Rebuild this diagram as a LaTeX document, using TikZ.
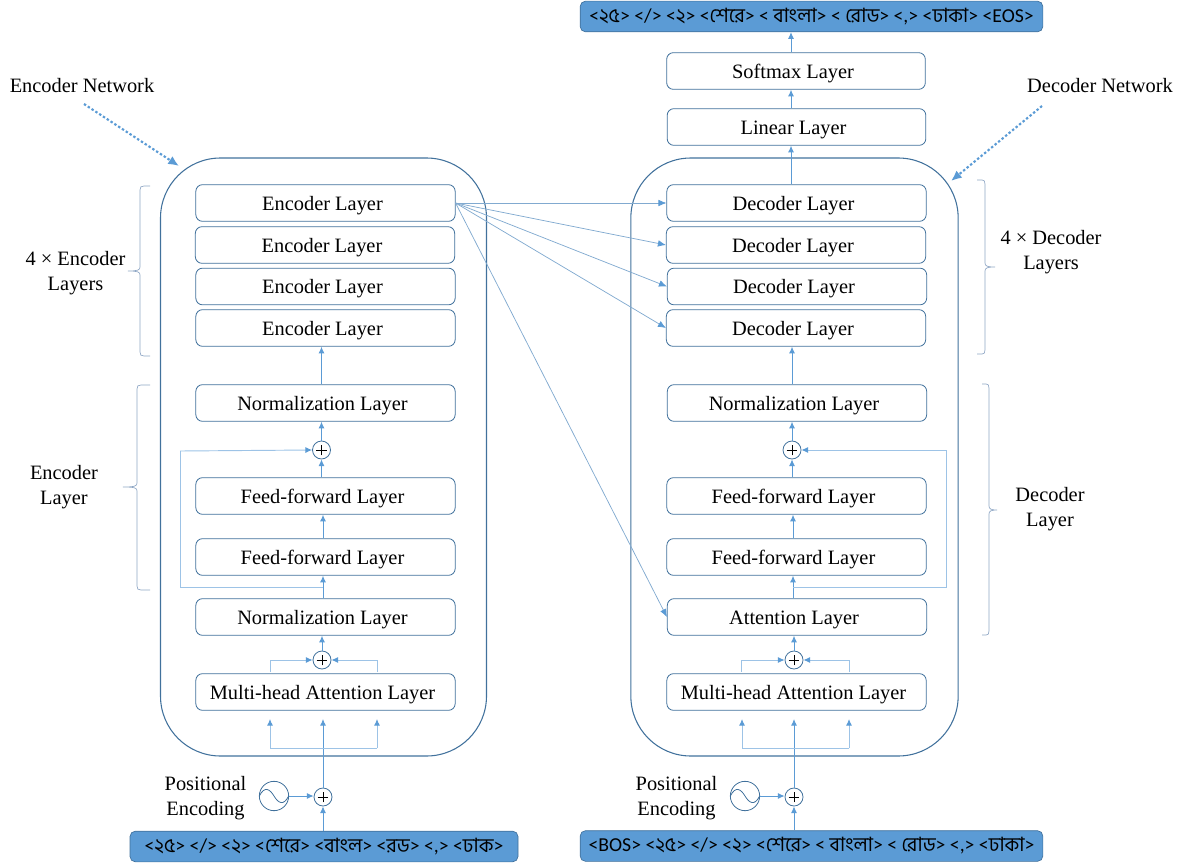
\documentclass[tikz,border=0pt]{standalone}
\usepackage{fontspec}
\setmainfont{Liberation Serif}
\newfontfamily\bn[Script=Bengali]{Hind Siliguri}
\newfontfamily\cb{Carlito}
\usetikzlibrary{arrows.meta,decorations.pathreplacing}
\definecolor{edgeblue}{HTML}{41719C}
\definecolor{arrowblue}{HTML}{5B9BD5}
\definecolor{linkblue}{HTML}{9DC3E6}
\definecolor{bracegrey}{HTML}{8EA6C4}
\newcommand{\B}[1]{{\bn #1}}
\tikzset{
  x=0.75pt,y=-0.75pt,
  layerbox/.style={draw=edgeblue,line width=0.6pt,rounded corners=5pt,minimum height=27.5pt,inner sep=0pt,font=\fontsize{15.3}{16}\selectfont,fill=white,text height=12.5pt,text depth=1.5pt,execute at begin node=\hspace*{-4.5pt}},
  tokbar/.style={draw=edgeblue,fill=arrowblue,line width=0.5pt,rounded corners=4pt,minimum height=23pt,inner sep=0pt,font=\cb\fontsize{14.8}{15}\selectfont},
  bigbox/.style={draw=edgeblue,line width=0.8pt,rounded corners=45pt},
  plusnode/.style={circle,draw=edgeblue,line width=0.6pt,fill=white,minimum size=13.5pt,inner sep=0pt,path picture={\draw[black,line width=0.4pt] (path picture bounding box.center) ++(-4pt,0) -- ++(8pt,0) (path picture bounding box.center) ++(0,-4pt) -- ++(0,8pt);}},
  wavenode/.style={circle,draw=edgeblue,line width=0.6pt,minimum size=22pt,inner sep=0pt,path picture={\draw[edgeblue,line width=0.6pt] (path picture bounding box.west) .. controls +(4pt,8pt) and +(-3pt,5pt) .. (path picture bounding box.center) .. controls +(3pt,-5pt) and +(-4pt,-8pt) .. (path picture bounding box.east);}},
  lab/.style={font=\fontsize{15.3}{18.7}\selectfont,align=center,inner sep=0pt},
  arr/.style={draw=arrowblue,line width=0.7pt,-{Latex[length=5pt,width=4.5pt]}},
  lnk/.style={draw=linkblue,line width=0.7pt,-{Latex[length=5pt,width=4.5pt,color=arrowblue]}},
  plainlnk/.style={draw=linkblue,line width=0.7pt},
  cross/.style={draw=linkblue!70!edgeblue,line width=0.55pt,-{Latex[length=6pt,width=5pt,color=arrowblue]}},
  dots/.style={draw=arrowblue,line width=1.6pt,dash pattern=on 1.8pt off 1.6pt,-{Latex[length=8pt,width=7pt]}},
  brc/.style={draw=bracegrey,line width=0.5pt}
}
\begin{document}
\begin{tikzpicture}
\useasboundingbox (0,0) rectangle (1184,863);
% big containers
\node[bigbox,minimum width=244.5pt,minimum height=448.5pt,inner sep=0pt] (encbig) at (323.5,457) {};
\node[bigbox,minimum width=245.5pt,minimum height=448.5pt,inner sep=0pt] (decbig) at (794.5,457) {};
% encoder layers
\node[layerbox,minimum width=194.5pt] (e1) at (325.5,203) {Encoder Layer};
\node[layerbox,minimum width=194.5pt] (e2) at (325,245) {Encoder Layer};
\node[layerbox,minimum width=194.5pt] (e3) at (325.5,286.5) {Encoder Layer};
\node[layerbox,minimum width=194.5pt] (e4) at (325.5,328) {Encoder Layer};
\node[layerbox,minimum width=194.5pt] (en1) at (325.5,403) {Normalization Layer};
\node[plusnode] (ep1) at (321.5,450) {};
\node[layerbox,minimum width=194.5pt] (ef2) at (325.5,496) {Feed-forward Layer};
\node[layerbox,minimum width=194.5pt] (ef1) at (325.5,557) {Feed-forward Layer};
\node[layerbox,minimum width=194.5pt] (en2) at (325.5,617) {Normalization Layer};
\node[plusnode] (ep2) at (322,660) {};
\node[layerbox,minimum width=194.5pt] (em) at (325.5,692) {Multi-head Attention Layer};
\node[plusnode] (ep3) at (323,797) {};
\node[wavenode] (ew) at (274,796) {};
\node[tokbar,minimum width=291pt] (etok) at (324,846.5) {<\B{২৫}> </> <\B{২}> <\B{শেরে}> <\B{বাংল}> <\B{রড}> <,> <\B{ঢাক}>};
% decoder layers
\node[layerbox,minimum width=194.5pt] (d1) at (796.5,203) {Decoder Layer};
\node[layerbox,minimum width=194.5pt] (d2) at (796,245) {Decoder Layer};
\node[layerbox,minimum width=194.5pt] (d3) at (797,286.5) {Decoder Layer};
\node[layerbox,minimum width=194.5pt] (d4) at (796,328) {Decoder Layer};
\node[layerbox,minimum width=194.5pt] (dn1) at (797,403) {Normalization Layer};
\node[plusnode] (dp1) at (792,450) {};
\node[layerbox,minimum width=194.5pt] (df2) at (796.5,496) {Feed-forward Layer};
\node[layerbox,minimum width=194.5pt] (df1) at (796.5,557) {Feed-forward Layer};
\node[layerbox,minimum width=194.5pt] (da) at (797,617) {Attention Layer};
\node[plusnode] (dp2) at (794,660) {};
\node[layerbox,minimum width=194.5pt] (dm) at (796.5,692) {Multi-head Attention Layer};
\node[plusnode] (dp3) at (794,797) {};
\node[wavenode] (dw) at (745,796) {};
\node[tokbar,minimum width=347pt] (dtok) at (811.5,846) {<BOS> <\B{২৫}> </> <\B{২}> <\B{শেরে}> < \B{বাংলা}> < \B{রোড}> <,> <\B{ঢাকা}>};
\node[layerbox,minimum width=194pt] (lin) at (796.5,127) {Linear Layer};
\node[layerbox,minimum width=194pt] (sm) at (796,71) {Softmax Layer};
\node[tokbar,minimum width=347pt] (otok) at (811.5,16.5) {<\B{২৫}> </> <\B{২}> <\B{শেরে}> < \B{বাংলা}> < \B{রোড}> <,> <\B{ঢাকা}> <EOS>};
% labels
\node[lab] (t1) at (82,85.5) {Encoder Network};
\node[lab] (t2) at (1100,85.5) {Decoder Network};
\node[lab] (t3) at (75.5,273) {4 × Encoder\\Layers};
\node[lab] (t4) at (1051,252.5) {4 × Decoder\\Layers};
\node[lab] (t5) at (64,487) {Encoder\\Layer};
\node[lab] (t6) at (1050,509) {Decoder\\Layer};
\node[lab] (t7) at (205.5,798) {Positional\\Encoding};
\node[lab] (t8) at (676.5,798) {Positional\\Encoding};
% dotted pointers
\coordinate (a1) at (84,104);
\coordinate (a2) at (179,166);
\coordinate (b1) at (1042,106);
\coordinate (b2) at (951,181);
\draw[dots] (a1) -- (a2);
\draw[dots] (b1) -- (b2);
% braces
\draw[brc] (150,186) -- (144,186) .. controls (141,186) and (140,187) .. (140,190) -- (140,267) .. controls (140,270) and (138,271) .. (128,271) .. controls (138,271) and (140,272) .. (140,275) -- (140,352) .. controls (140,355) and (141,356) .. (144,356) -- (150,356);
\draw[brc] (150,385) -- (141,385) .. controls (138,385) and (137,386) .. (137,389) -- (137,483) .. controls (137,486) and (135,487) .. (123,487) .. controls (135,487) and (137,488) .. (137,491) -- (137,586) .. controls (137,589) and (138,590) .. (141,590) -- (150,590);
\draw[brc] (977,180) -- (982,180) .. controls (984,180) and (985,181) .. (985,184) -- (985,263) .. controls (985,266) and (987,267) .. (995,267) .. controls (987,267) and (985,268) .. (985,271) -- (985,350) .. controls (985,353) and (984,354) .. (982,354) -- (977,354);
\draw[brc] (982,384) -- (986,384) .. controls (988,384) and (989,385) .. (989,388) -- (989,506) .. controls (989,509) and (991,510) .. (997,510) .. controls (991,510) and (989,511) .. (989,514) -- (989,631) .. controls (989,634) and (988,635) .. (986,635) -- (982,635);
% encoder connectors
\coordinate (ec1) at (323,587);
\draw[arr] (en1.north -| ep1) -- (e4.south -| ep1);
\draw[arr] (ep1) -- (en1.south -| ep1);
\draw[arr] (ef2.north -| ep1) -- (ep1);
\draw[arr] (ef1.north -| ec1) -- (ef2.south -| ec1);
\draw[arr] (en2.north -| ec1) -- (ef1.south -| ec1);
\draw[plainlnk] (ec1) -- (180,587) -- (180,451);
\draw[lnk] (180,451) -- (ep1.west);
\draw[arr] (ep2) -- (en2.south -| ep2);
\draw[plainlnk] (270,672) -- (270,660);
\draw[lnk] (270,660) -- (ep2.west);
\draw[plainlnk] (377,672) -- (377,660);
\draw[lnk] (377,660) -- (ep2.east);
\draw[arr] (ep3) -- (323,719);
\coordinate (ef) at (323,748);
\draw[plainlnk] (ef) -- (270,748);
\draw[lnk] (270,748) -- (270,719);
\draw[plainlnk] (ef) -- (377,748);
\draw[lnk] (377,748) -- (377,719);
\draw[arr] (ew.east) -- (ew.east -| ep3.west);
\draw[arr] (etok.north -| ep3) -- (ep3);
% decoder connectors
\coordinate (dc1) at (793,587);
\coordinate (topx) at (791,100);
\draw[arr] (dn1.north -| dp1) -- (d4.south -| dp1);
\draw[arr] (dp1) -- (dn1.south -| dp1);
\draw[arr] (df2.north -| dp1) -- (dp1);
\draw[arr] (df1.north -| dc1) -- (df2.south -| dc1);
\draw[arr] (da.north -| dc1) -- (df1.south -| dc1);
\draw[plainlnk] (dc1) -- (946,587) -- (946,450);
\draw[lnk] (946,450) -- (dp1.east);
\draw[arr] (dp2) -- (da.south -| dp2);
\draw[plainlnk] (741,672) -- (741,660);
\draw[lnk] (741,660) -- (dp2.west);
\draw[plainlnk] (849,672) -- (849,660);
\draw[lnk] (849,660) -- (dp2.east);
\draw[arr] (dp3) -- (794,719);
\coordinate (df) at (794,748);
\draw[plainlnk] (df) -- (742,748);
\draw[lnk] (742,748) -- (742,719);
\draw[plainlnk] (df) -- (849,748);
\draw[lnk] (849,748) -- (849,719);
\draw[arr] (dw.east) -- (dw.east -| dp3.west);
\draw[arr] (dtok.north -| dp3) -- (dp3);
\draw[arr] (d1.north -| topx) -- (lin.south -| topx);
\draw[arr] (lin.north -| topx) -- (sm.south -| topx);
\draw[arr] (sm.north -| topx) -- (otok.south -| topx);
% cross connectors
\draw[cross] (e1.east) -- (d1.west);
\draw[cross] (e1.east) -- (d2.west);
\draw[cross] (e1.east) -- (d3.west);
\draw[cross] (e1.east) -- (d4.west);
\draw[cross] (e1.east) -- (da.west);
\end{tikzpicture}
\end{document}
